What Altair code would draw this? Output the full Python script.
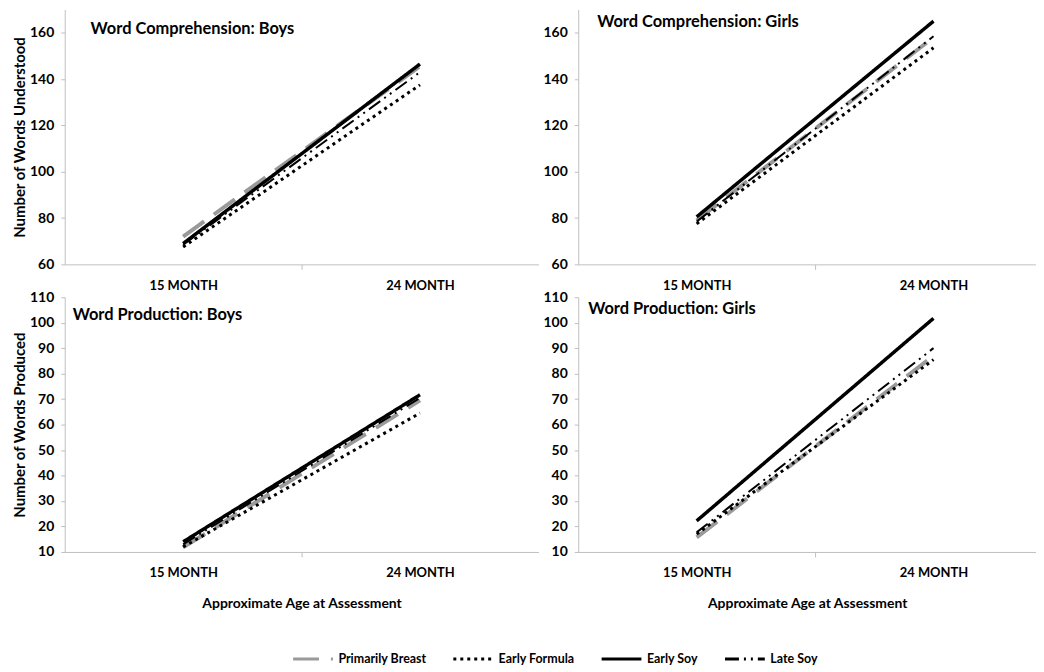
import altair as alt
import pandas as pd

ages = ["15 MONTH", "24 MONTH"]
groups = ["Primarily Breast", "Early Formula", "Early Soy", "Late Soy"]

comp_boys = {"Primarily Breast": [72, 145.5], "Early Formula": [67.5, 137.5],
             "Early Soy": [69, 146.5], "Late Soy": [68.5, 143]}
comp_girls = {"Primarily Breast": [79, 158], "Early Formula": [77.5, 153.5],
              "Early Soy": [80.5, 165], "Late Soy": [78.5, 158.5]}
prod_boys = {"Primarily Breast": [11.8, 69.5], "Early Formula": [12, 64.5],
             "Early Soy": [14, 71.7], "Late Soy": [13, 70.5]}
prod_girls = {"Primarily Breast": [15.7, 87], "Early Formula": [17, 85.5],
              "Early Soy": [22.2, 101.7], "Late Soy": [17.7, 90]}

comp_ticks = [60, 80, 100, 120, 140, 160]
prod_ticks = [10, 20, 30, 40, 50, 60, 70, 80, 90, 100, 110]

colors = ["#9a9a9a", "#000000", "#000000", "#000000"]
dashes = [[26, 12], [3, 4], [1, 0], [14, 5, 2, 5, 2, 5]]
widths = [4, 3, 3.5, 2]

FONT = "Lato"
label_expr = " : ".join(f"datum.value == {i + 0.5} ? '{a}'" for i, a in enumerate(ages)) + " : ''"

legend = alt.Legend(orient="none", legendX=228, legendY=631, direction="horizontal",
                    columns=4, title=None, symbolType="stroke", symbolSize=1600,
                    symbolStrokeWidth=3, labelFont=FONT, labelFontWeight="bold",
                    labelFontSize=12.5, labelColor="black", columnPadding=20, labelOffset=4)


def panel(values, title, tx, ty, ydom, yvals, ytitle, xtitle, width, xmax):
    x = alt.X("pos:Q", scale=alt.Scale(domain=[0, xmax], nice=False, zero=False),
              axis=alt.Axis(values=[0.5, 1, 1.5], labelExpr=label_expr, title=xtitle,
                            tickOpacity={"condition": {"test": "datum.value == 1", "value": 1}, "value": 0}))
    y = alt.Y("value:Q", scale=alt.Scale(domain=ydom, nice=False, zero=False),
              axis=alt.Axis(values=yvals, title=ytitle))
    layers = []
    for g, w in zip(groups, widths):
        df = pd.DataFrame({"pos": [i + 0.5 for i in range(len(ages))], "age": ages,
                           "group": g, "value": values[g]})
        layers.append(
            alt.Chart(df).mark_line(strokeWidth=w).encode(
                x=x, y=y,
                color=alt.Color("group:N", scale=alt.Scale(domain=groups, range=colors), legend=legend),
                strokeDash=alt.StrokeDash("group:N", scale=alt.Scale(domain=groups, range=dashes), legend=legend),
            )
        )
    text = alt.Chart(pd.DataFrame({"t": [title]})).mark_text(
        align="left", baseline="middle", font=FONT, fontWeight="bold", fontSize=16.5, color="black"
    ).encode(x=alt.value(tx), y=alt.value(ty), text="t:N")
    return alt.layer(*layers, text).properties(width=width, height=256)


p1 = panel(comp_boys, "Word Comprehension:  Boys", 26, 20, [60, 170], comp_ticks,
           "Number of Words Understood", None, 476, 2)
p2 = panel(comp_girls, "Word Comprehension:  Girls", 19, 12, [60, 170], comp_ticks,
           None, None, 460, 460 / 238)
p3 = panel(prod_boys, "Word Production: Boys", 8, 18, [10, 110], prod_ticks,
           "Number of Words Produced", "Approximate Age at Assessment", 476, 2)
p4 = panel(prod_girls, "Word Production: Girls", 10, 12, [10, 110], prod_ticks,
           None, "Approximate Age at Assessment", 460, 460 / 238)

chart = alt.concat(p1, p2, p3, p4, columns=2, spacing={"row": 33, "column": 40}, bounds="flush").properties(
    padding={"left": 4, "top": 0, "right": 0, "bottom": 5}
).configure_view(stroke=None).configure_axis(
    grid=False, domainColor="#bfbfbf", tickColor="#bfbfbf", domainWidth=1,
    labelFont=FONT, labelFontWeight="bold", labelColor="black",
    titleFont=FONT, titleFontWeight="bold", titleColor="black",
).configure_axisY(labelFontSize=14, tickSize=4, labelPadding=7, titlePadding=2, titleFontSize=15).configure_axisX(
    labelFontSize=13, tickSize=5, labelPadding=10, titlePadding=17, titleFontSize=14
)

chart.save("out.html", embed_options={"renderer": "svg", "actions": False})
